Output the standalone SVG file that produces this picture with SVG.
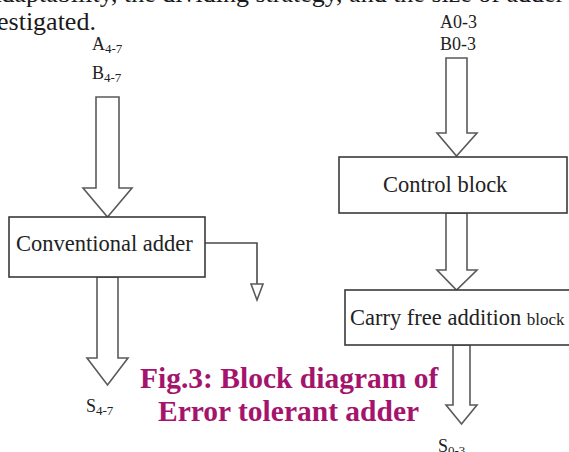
<svg xmlns="http://www.w3.org/2000/svg" width="569" height="452" viewBox="0 0 569 452">
<style>
.bg{fill:#ffffff}
.box{fill:#ffffff;stroke:#3a3a3a;stroke-width:1.6}
.arr{fill:#ffffff;stroke:#5a5a5a;stroke-width:1.6;stroke-linejoin:miter}
.ln{fill:none;stroke:#4a4a4a;stroke-width:1.6}
.t{font-family:"Liberation Serif","Times New Roman",serif;fill:#222222}
.lbl{font-size:22.5px}
.io{font-size:18px}
.sub{font-size:13px}
.body{font-family:"Liberation Serif","Times New Roman",serif;font-size:26px;fill:#1a1a1a}
.cap{font-family:"Liberation Serif","Times New Roman",serif;font-size:29.5px;font-weight:bold;fill:#a5146c}
</style>
<rect class="bg" x="0" y="0" width="569" height="452"/>
<text class="body" x="-10" y="2">adaptability, the dividing strategy, and the size of adder</text>
<text class="body" x="-3" y="30">estigated.</text>

<g id="connectors">
  <polygon class="arr" points="96,97 119,97 119,188 132,188 107.5,217 83,188 96,188"/>
  <polygon class="arr" points="97,277 118,277 118,358 128,358 107.5,385 87,358 97,358"/>
  <polygon class="arr" points="446,58 467,58 467,133 477,133 456.5,156 437,133 446,133"/>
  <polygon class="arr" points="446,213 467,213 467,270 477,270 456.5,290 437,270 446,270"/>
  <polygon class="arr" points="453,345 470,345 470,405 477,405 461.5,424 446,405 453,405"/>
  <polyline class="ln" points="205,243 257,243 257,284"/>
  <polygon class="arr" points="251,284 263,284 257,300"/>
</g>

<g id="in-left">
  <text class="t io" x="92" y="50">A<tspan class="sub" dy="3">4-7</tspan></text>
  <text class="t io" x="92" y="79">B<tspan class="sub" dy="3">4-7</tspan></text>
</g>
<g id="in-right">
  <text class="t io" x="440" y="28" font-size="19">A0-3</text>
  <text class="t io" x="440" y="50" font-size="19">B0-3</text>
</g>

<g id="conventional-adder">
  <rect class="box" x="9" y="217" width="196" height="60"/>
  <text class="t lbl" x="16" y="251">Conventional adder</text>
</g>

<g id="control-block">
  <rect class="box" x="339" y="157" width="228" height="56"/>
  <text class="t lbl" x="383" y="192">Control block</text>
</g>

<g id="carry-free-block">
  <rect class="box" x="345" y="290" width="230" height="55"/>
  <text class="t lbl" x="350" y="325">Carry free addition <tspan font-size="17">block</tspan></text>
</g>

<g id="out-left">
  <text class="t io" x="86" y="412">S<tspan class="sub" dy="3">4-7</tspan></text>
</g>
<g id="out-right">
  <text class="t io" x="438" y="452">S<tspan class="sub" dy="3">0-3</tspan></text>
</g>

<g id="caption">
  <text class="cap" x="140" y="388">Fig.3: Block diagram of</text>
  <text class="cap" x="158" y="421">Error tolerant adder</text>
</g>
</svg>
